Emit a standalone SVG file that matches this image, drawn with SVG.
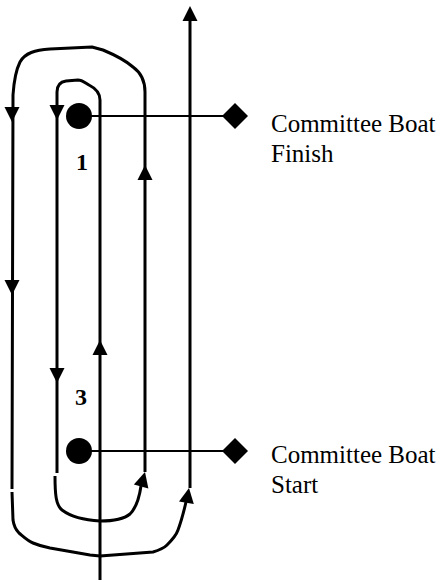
<svg xmlns="http://www.w3.org/2000/svg" width="441" height="582" viewBox="0 0 441 582">
  <style>
    .route { fill: none; stroke: #000; stroke-width: 3; stroke-linejoin: round; stroke-linecap: butt; }
    .line { fill: none; stroke: #000; stroke-width: 2; }
    .mark { fill: #000; }
    .boat { fill: #000; }
    .num { font-family: "Liberation Serif", "Times New Roman", serif; font-weight: bold; font-size: 24px; fill: #000; text-anchor: middle; }
    .lbl { font-family: "Liberation Serif", "Times New Roman", serif; font-size: 25px; fill: #000; }
  </style>
  <defs>
    <path id="ah" d="M0,0 L-7.5,15 L7.5,15 Z" fill="#000"/>
  </defs>
  <rect x="0" y="0" width="441" height="582" fill="#fff"/>

  <g id="connectors">
    <path class="route" d="M100,580 L100,100 C100,92 95,88 89,85 C84,82 82,80 78,80 L66,81 C59,82 57,86 57,92 L57,473"/>
    <path class="route" d="M55,476 C55,495 56,505 62,510 C70,516 80,520 100,521 C115,521 124,519 130,514 C136,508 139,500 141,486"/>
    <path class="route" d="M145,472 L145,92 C145,80 140,72 133,67 C125,60 115,55 103,50 L92,47 L50,49 C35,50 25,53 20,62 C16,70 14,80 13,95 L12,489"/>
    <path class="route" d="M12,492 L13,520 C14,527 16,530 19,533 C25,538 28,541 33,543 C40,546 45,547 50,548 L90,555 L100,556 L153,552 C160,550 164,548 167,545 C172,540 176,536 178,530 C181,522 183,515 186,502"/>
    <path class="route" d="M190,488 L190,18"/>
    <path class="line" d="M79,116 L235,116"/>
    <path class="line" d="M79,451 L235,451"/>
    <use href="#ah" transform="translate(12,122) rotate(180)"/>
    <use href="#ah" transform="translate(57,120) rotate(180)"/>
    <use href="#ah" transform="translate(12,295) rotate(180)"/>
    <use href="#ah" transform="translate(57,383) rotate(180)"/>
    <use href="#ah" transform="translate(145,165)"/>
    <use href="#ah" transform="translate(100,340)"/>
    <use href="#ah" transform="translate(190,6)"/>
    <use href="#ah" transform="translate(145,472) rotate(15)"/>
    <use href="#ah" transform="translate(189,488) rotate(10)"/>
  </g>

  <g id="mark1">
    <circle class="mark" cx="79" cy="116" r="13"/>
    <text class="num" x="82" y="170">1</text>
  </g>
  <g id="mark3">
    <circle class="mark" cx="79" cy="451" r="13"/>
    <text class="num" x="81" y="405">3</text>
  </g>
  <g id="boat-finish">
    <path class="boat" d="M235,103 L248,116 L235,129 L222,116 Z"/>
    <text class="lbl" x="271" y="132">Committee Boat</text>
    <text class="lbl" x="271" y="161.5">Finish</text>
  </g>
  <g id="boat-start">
    <path class="boat" d="M235,438 L248,451 L235,464 L222,451 Z"/>
    <text class="lbl" x="271" y="463">Committee Boat</text>
    <text class="lbl" x="271" y="492.5">Start</text>
  </g>
</svg>
